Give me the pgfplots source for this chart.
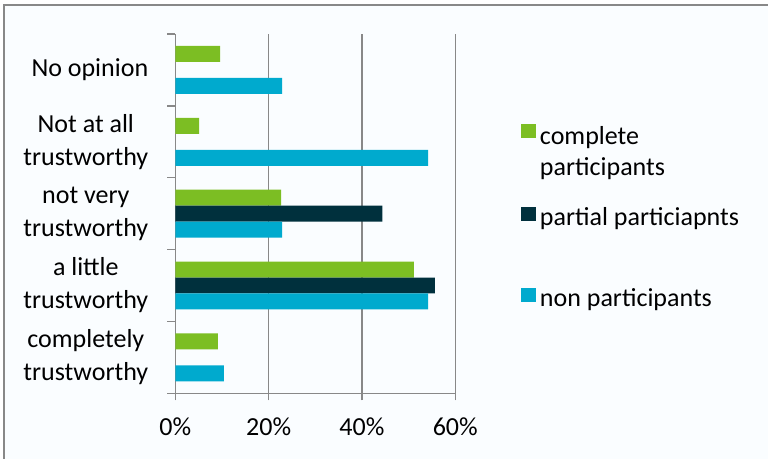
\documentclass[border=0pt]{standalone}
\usepackage{pgfplots}
\pgfplotsset{compat=1.18}
\usepackage{fontspec}
\setmainfont{Carlito}

\definecolor{cgreen}{HTML}{7CBE23}
\definecolor{cdark}{HTML}{00303D}
\definecolor{cblue}{HTML}{00AACE}
\definecolor{gridgray}{HTML}{888888}
\definecolor{bgcol}{HTML}{FAFDFF}

\begin{document}
\begin{tikzpicture}[x=0.5pt,y=0.5pt,font=\fontsize{13}{16.5}\selectfont]
  \useasboundingbox (0,0) rectangle (768,459);
  \filldraw[fill=bgcol, draw=gridgray, line width=0.7pt] (4,-10) rectangle (790,454);

  \begin{axis}[
    at={(87.65pt,32.85pt)}, anchor=south west,
    scale only axis, width=140pt, height=179.65pt,
    xmin=0, xmax=60, ymin=-0.5, ymax=4.5,
    xbar, bar width=0.2225,
    axis x line*=bottom, axis y line*=left,
    axis line style={gridgray, line width=0.75pt},
    xtick={0,20,40,60},
    xticklabels={0\%,20\%,40\%,60\%},
    xmajorgrids,
    grid style={gridgray, line width=0.75pt},
    ytick={0,1,2,3,4},
    yticklabels={{completely\\trustworthy},{a little\\trustworthy},{not very\\trustworthy},{Not at all\\trustworthy},{No opinion}},
    minor ytick={-0.5,0.5,1.5,2.5,3.5,4.5},
    major y tick style={draw=none},
    minor y tick style={gridgray, line width=0.75pt},
    major x tick style={gridgray, line width=0.75pt},
    tick align=outside,
    major tick length=3.5pt,
    minor tick length=4pt,
    tick label style={font=\fontsize{13}{16.5}\selectfont},
    yticklabel style={align=center, xshift=-6.5pt},
    xticklabel style={yshift=-5pt},
    legend cell align=left,
    legend style={at={(1.234,0.765)}, anchor=north west, draw=none, fill=none,
      inner sep=0pt, font=\fontsize{13}{15.5}\selectfont, row sep=26pt},
    legend image code/.code={\fill[#1] (0pt,-1.3pt) rectangle (7.4pt,5.7pt);},
  ]
    \addplot[fill=cgreen, draw=none, bar shift=0.2225]
      coordinates {(9.1,0) (51.1,1) (22.7,2) (5.1,3) (9.6,4)};
    \addlegendentry{\begin{tabular}[t]{@{}l@{}}complete\\participants\end{tabular}}
    \addplot[fill=cdark, draw=none, bar shift=0]
      coordinates {(55.6,1) (44.4,2)};
    \addlegendentry{partial particiapnts}
    \addplot[fill=cblue, draw=none, bar shift=-0.2225]
      coordinates {(10.4,0) (54.2,1) (22.9,2) (54.2,3) (22.9,4)};
    \addlegendentry{non participants}
  \end{axis}
\end{tikzpicture}
\end{document}
